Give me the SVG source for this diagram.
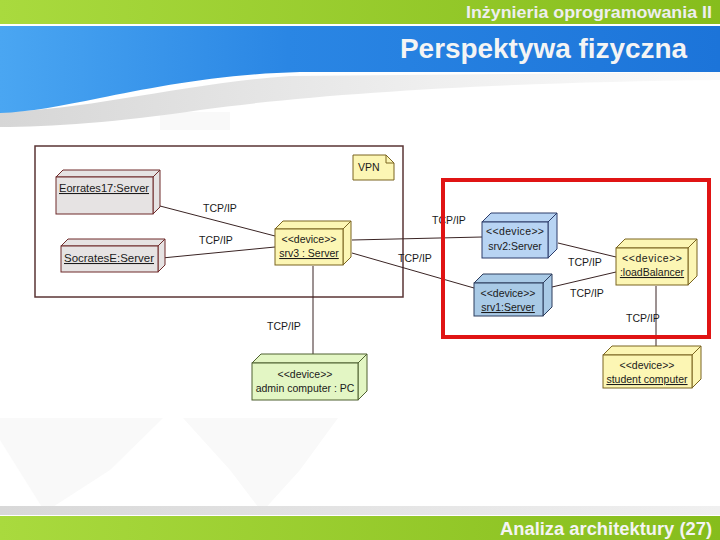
<svg xmlns="http://www.w3.org/2000/svg" width="720" height="540" viewBox="0 0 720 540">
<defs>
<linearGradient id="green" x1="0" y1="0" x2="1" y2="0"><stop offset="0" stop-color="#a9da3e"/><stop offset="1" stop-color="#86bd1c"/></linearGradient>
<linearGradient id="blue" x1="0" y1="0" x2="1" y2="0"><stop offset="0" stop-color="#4aa6f2"/><stop offset="0.4" stop-color="#2a86e4"/><stop offset="1" stop-color="#1c74d9"/></linearGradient>
<linearGradient id="shade" x1="0" y1="0" x2="1" y2="0"><stop offset="0" stop-color="#d6d6d6"/><stop offset="0.6" stop-color="#efefef"/><stop offset="1" stop-color="#fafafa"/></linearGradient>
<linearGradient id="gline" x1="0" y1="0" x2="1" y2="0"><stop offset="0" stop-color="#d8d8d8"/><stop offset="1" stop-color="#f0f0f0"/></linearGradient>
<style>
.hdr{font-family:"Liberation Sans",Arial,sans-serif;font-weight:bold;}
.t{font-family:"Liberation Sans",Arial,sans-serif;font-size:10.5px;fill:#1a1a1a;}
.u{text-decoration:underline;}
.conn line{stroke:#3a2424;stroke-width:1;}
.node{stroke-width:1;}
.gray{fill:#e6e3e3;stroke:#6e2a2a;}
.yel{fill:#fcf6b4;stroke:#7a6420;}
.blu2{fill:#b8d4f3;stroke:#2c3c6a;}
.blu1{fill:#a9cae6;stroke:#2c3c5c;}
.grn{fill:#e3f6c4;stroke:#4e6030;}
</style>
</defs>
<rect width="720" height="540" fill="#ffffff"/>
<!-- faint watermark shapes -->
<polygon points="0,418 163,418 110,470 45,512 0,440" fill="#f9f9f9"/>
<polygon points="183,418 338,418 300,470 262,512 230,470" fill="#f9f9f9"/>
<rect x="160" y="112" width="70" height="18" fill="#f9f9f9"/>
<!-- header -->
<rect x="0" y="0" width="720" height="24" fill="url(#green)"/>
<path d="M0,112 C90,110 180,84 290,76 L720,72 L720,80 C520,82 330,92 200,110 C120,122 50,127 0,127 Z" fill="url(#shade)"/>
<path d="M0,26 H720 V72 H300 C220,74 150,88 100,98 C60,106 30,112 0,113 Z" fill="url(#blue)"/>
<text class="hdr" x="712" y="18" font-size="16" fill="#eeeeee" text-anchor="end" textLength="246" lengthAdjust="spacingAndGlyphs">Inżynieria oprogramowania II</text>
<text class="hdr" x="687" y="58" font-size="28" fill="#f4f4f4" text-anchor="end" textLength="287" lengthAdjust="spacingAndGlyphs">Perspektywa fizyczna</text>
<!-- footer -->
<rect x="0" y="506" width="720" height="9" fill="url(#gline)"/>
<rect x="0" y="516" width="720" height="24" fill="url(#green)"/>
<text class="hdr" x="712" y="535" font-size="18" fill="#f4f4f4" text-anchor="end" textLength="212" lengthAdjust="spacingAndGlyphs">Analiza architektury  (27)</text>

<!-- VPN boundary -->
<rect x="35" y="146" width="368" height="151" fill="none" stroke="#5a3434" stroke-width="1.5"/>

<!-- connectors -->
<g id="connectors" class="conn">
<line x1="160" y1="206" x2="275" y2="236"/>
<line x1="162" y1="258" x2="275" y2="247"/>
<line x1="352" y1="240" x2="482" y2="237"/>
<line x1="352" y1="253" x2="474" y2="288"/>
<line x1="558" y1="243" x2="616" y2="257"/>
<line x1="552" y1="287" x2="616" y2="272"/>
<line x1="656" y1="286" x2="656" y2="347"/>
<line x1="313" y1="266" x2="313" y2="363"/>
<text class="t" x="203" y="212">TCP/IP</text>
<text class="t" x="199" y="244">TCP/IP</text>
<text class="t" x="432" y="224">TCP/IP</text>
<text class="t" x="398" y="262">TCP/IP</text>
<text class="t" x="568" y="266">TCP/IP</text>
<text class="t" x="570" y="297">TCP/IP</text>
<text class="t" x="626" y="322">TCP/IP</text>
<text class="t" x="267" y="330">TCP/IP</text>
</g>

<!-- VPN note -->
<g id="vpn">
<path d="M353,155 H386 L394,163 V180 H353 Z" fill="#fcf6b4" stroke="#7a6420"/>
<path d="M386,155 V163 H394" fill="none" stroke="#7a6420"/>
<text class="t" x="358" y="171" font-size="9.5">VPN</text>
</g>

<g id="eorrates" class="node gray">
<polygon points="56,177 63,170 160,170 153,177"/>
<polygon points="153,177 160,170 160,207 153,214"/>
<rect x="56" y="177" width="97" height="37"/>
<text class="t u" x="104" y="192" text-anchor="middle" stroke="none" textLength="90" lengthAdjust="spacingAndGlyphs">Eorrates17:Server</text>
</g>

<g id="socratesE" class="node gray">
<polygon points="61,246 68,239 165,239 158,246"/>
<polygon points="158,246 165,239 165,265 158,272"/>
<rect x="61" y="246" width="97" height="26"/>
<text class="t u" x="109" y="262" text-anchor="middle" stroke="none" textLength="90" lengthAdjust="spacingAndGlyphs">SocratesE:Server</text>
</g>

<g id="srv3" class="node yel">
<polygon points="275,229 283,221 351,221 343,229"/>
<polygon points="343,229 351,221 351,257 343,265"/>
<rect x="275" y="229" width="68" height="36"/>
<text class="t" x="309" y="243" text-anchor="middle" stroke="none">&lt;&lt;device&gt;&gt;</text>
<text class="t u" x="309" y="257" text-anchor="middle" stroke="none">srv3 : Server</text>
</g>

<g id="srv2" class="node blu2">
<polygon points="482,222 491,213 557,213 548,222"/>
<polygon points="548,222 557,213 557,249 548,258"/>
<rect x="482" y="222" width="66" height="36"/>
<text class="t" x="515" y="235" text-anchor="middle" stroke="none" textLength="58" lengthAdjust="spacing">&lt;&lt;device&gt;&gt;</text>
<text class="t" x="515" y="250" text-anchor="middle" stroke="none">srv2:Server</text>
</g>

<g id="srv1" class="node blu1">
<polygon points="474,283 483,274 552,274 543,283"/>
<polygon points="543,283 552,274 552,307 543,316"/>
<rect x="474" y="283" width="69" height="33"/>
<text class="t" x="508" y="297" text-anchor="middle" stroke="none">&lt;&lt;device&gt;&gt;</text>
<text class="t u" x="508" y="311" text-anchor="middle" stroke="none">srv1:Server</text>
</g>

<g id="loadBalancer" class="node yel">
<polygon points="616,248 625,239 697,239 688,248"/>
<polygon points="688,248 697,239 697,276 688,285"/>
<rect x="616" y="248" width="72" height="37"/>
<text class="t" x="652" y="262" text-anchor="middle" stroke="none" textLength="60" lengthAdjust="spacing">&lt;&lt;device&gt;&gt;</text>
<text class="t u" x="652" y="276" text-anchor="middle" stroke="none">:loadBalancer</text>
</g>

<g id="admin" class="node grn">
<polygon points="252,363 261,354 367,354 358,363"/>
<polygon points="358,363 367,354 367,391 358,400"/>
<rect x="252" y="363" width="106" height="37"/>
<text class="t" x="305" y="378" text-anchor="middle" stroke="none">&lt;&lt;device&gt;&gt;</text>
<text class="t" x="305" y="392" text-anchor="middle" stroke="none">admin computer : PC</text>
</g>

<g id="student" class="node yel">
<polygon points="603,355 612,346 701,346 692,355"/>
<polygon points="692,355 701,346 701,379 692,388"/>
<rect x="603" y="355" width="89" height="33"/>
<text class="t" x="647" y="369" text-anchor="middle" stroke="none">&lt;&lt;device&gt;&gt;</text>
<text class="t u" x="647" y="383" text-anchor="middle" stroke="none">student computer</text>
</g>

<!-- red highlight -->
<rect x="443" y="180" width="266" height="157" fill="none" stroke="#e01414" stroke-width="4"/>
</svg>
